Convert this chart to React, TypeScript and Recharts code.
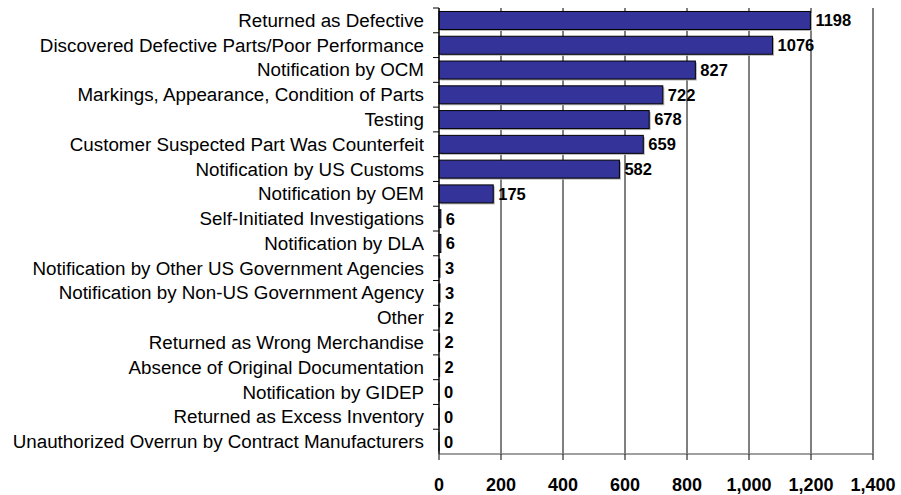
import React from "react";
import { BarChart, Bar, XAxis, YAxis, CartesianGrid, LabelList } from "recharts";

const categories = [
  "Returned as Defective",
  "Discovered Defective Parts/Poor Performance",
  "Notification by OCM",
  "Markings, Appearance, Condition of Parts",
  "Testing",
  "Customer Suspected Part Was Counterfeit",
  "Notification by US Customs",
  "Notification by OEM",
  "Self-Initiated Investigations",
  "Notification by DLA",
  "Notification by Other US Government Agencies",
  "Notification by Non-US Government Agency",
  "Other",
  "Returned as Wrong Merchandise",
  "Absence of Original Documentation",
  "Notification by GIDEP",
  "Returned as Excess Inventory",
  "Unauthorized Overrun by Contract Manufacturers",
];
const values = [1198, 1076, 827, 722, 678, 659, 582, 175, 6, 6, 3, 3, 2, 2, 2, 0, 0, 0];
const xTicks = [0, 200, 400, 600, 800, 1000, 1200, 1400];

const data = categories.map((c, i) => ({ name: c, value: values[i] }));

const FONT = "Arial, 'Liberation Sans', sans-serif";
const W = 901;
const H = 495;
const M = { top: 8, right: 28, bottom: 0, left: 0 };
const X_AXIS_H = 41;
const BAND = (H - M.top - M.bottom - X_AXIS_H) / categories.length;

const YTick = (props: any) => {
  const { x, y, payload } = props;
  return (
    <g>
      <line x1={x + 9} x2={x + 15} y1={y - BAND / 2} y2={y - BAND / 2} stroke="#000" strokeWidth={1} />
      <text
        x={x}
        y={y}
        textAnchor="end"
        dominantBaseline="central"
        fontFamily={FONT}
        fontSize={18.8}
        fill="#000"
      >
        {payload.value}
      </text>
    </g>
  );
};

const ShadowBar = (props: any) => {
  const { x, y, width, height, fill } = props;
  if (width == null || height == null) return null;
  return (
    <g>
      {width > 2 && (
        <rect x={x + 1.5} y={y + 1.5} width={width} height={height} fill="#b4b4b4" />
      )}
      <rect x={x} y={y} width={width} height={height} fill={fill} stroke="#000" strokeWidth={1} />
    </g>
  );
};

export default function App() {
  return (
    <div style={{ position: "absolute", left: 0, top: 0, width: W, height: H, background: "#fff" }}>
      <BarChart
        width={W}
        height={H}
        data={data}
        layout="vertical"
        margin={M}
        barCategoryGap="14%"
      >
        <CartesianGrid horizontal={false} stroke="#000" strokeWidth={1} />
        <XAxis
          type="number"
          domain={[0, 1400]}
          ticks={xTicks}
          interval={0}
          height={X_AXIS_H}
          tickFormatter={(v: number) => v.toLocaleString("en-US")}
          axisLine={{ stroke: "#808080", strokeWidth: 1.5 }}
          tickLine={{ stroke: "#000" }}
          tickSize={6}
          tickMargin={18}
          tick={{ fill: "#000", fontSize: 18, fontWeight: "bold", fontFamily: FONT }}
        />
        <YAxis
          type="category"
          dataKey="name"
          width={439}
          interval={0}
          axisLine={{ stroke: "#000" }}
          tickLine={false}
          tickSize={6}
          tickMargin={9}
          tick={<YTick />}
        />
        <Bar
          dataKey="value"
          fill="#333399"
          minPointSize={0.01}
          shape={<ShadowBar />}
          isAnimationActive={false}
        >
          <LabelList
            dataKey="value"
            position="right"
            offset={5}
            fill="#000"
            fontSize={16.5}
            fontWeight="bold"
            fontFamily={FONT}
          />
        </Bar>
      </BarChart>
    </div>
  );
}
